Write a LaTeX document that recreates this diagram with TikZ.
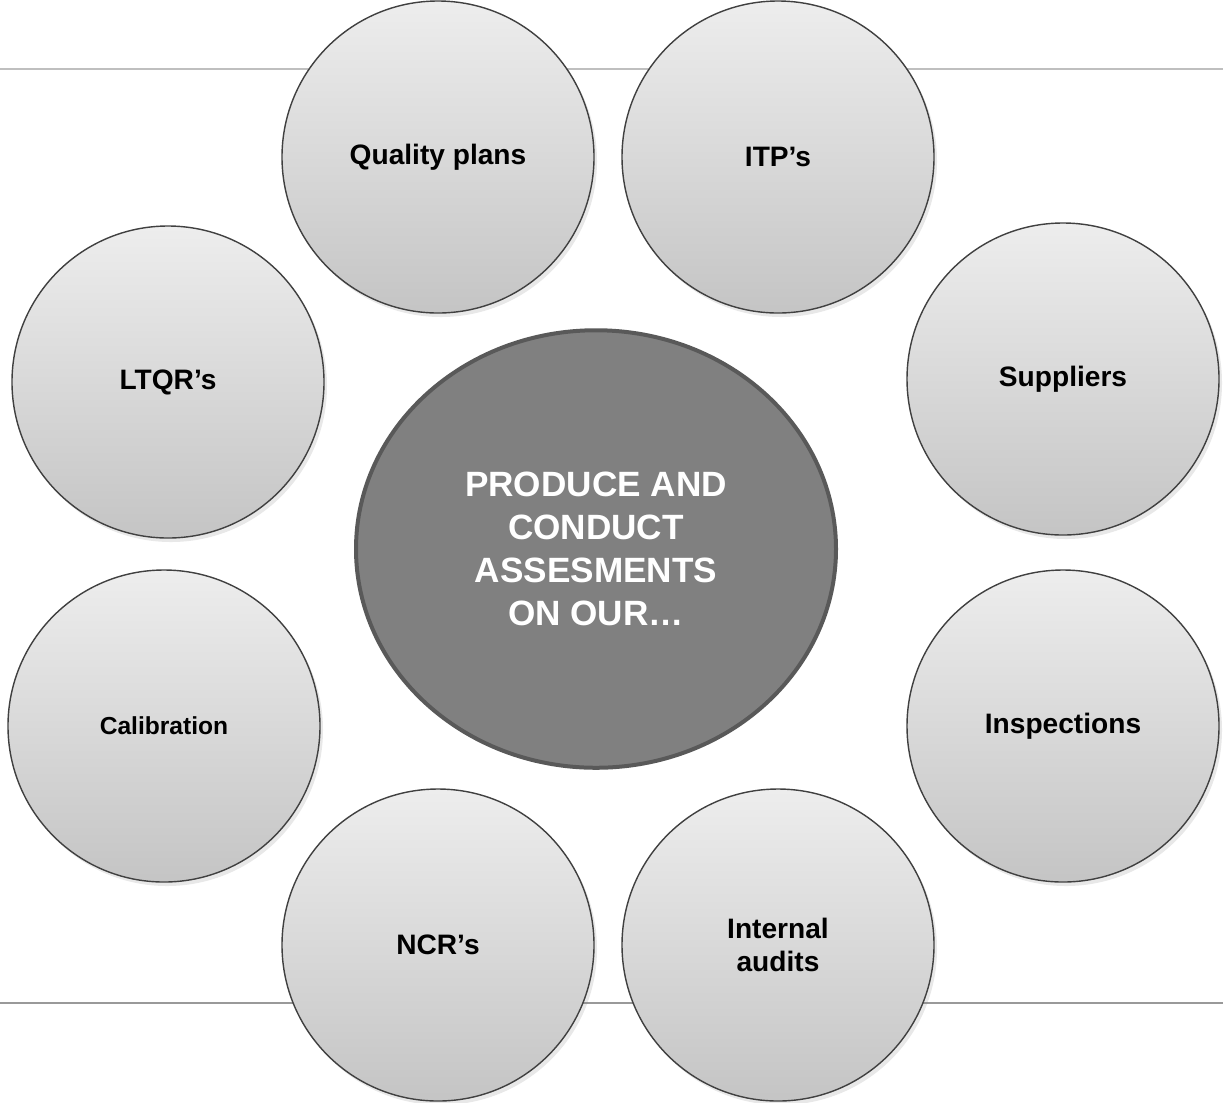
\documentclass[tikz,border=0pt]{standalone}
\usepackage{fontspec}
\setmainfont{Liberation Sans}
\usetikzlibrary{shapes.geometric,shadows}

\tikzset{
  bubble/.style={circle, draw=black!75, line width=0.8pt, minimum size=62.4mm,
    top color=black!7, bottom color=black!23, align=center, inner sep=0pt,
    font=\fontsize{16}{19}\selectfont\bfseries,
    drop shadow={opacity=0.18, shadow xshift=0.6mm, shadow yshift=-0.8mm}},
  hub/.style={ellipse, draw=black!65, line width=0.8mm, fill=black!50,
    minimum width=96mm, minimum height=87.5mm, align=center, text=white,
    font=\fontsize{20}{24.5}\selectfont\bfseries},
  rule/.style={draw=black!25, line width=0.4mm}
}

\begin{document}
\begin{tikzpicture}[x=0.2mm, y=-0.2mm]
    \useasboundingbox (0,0) rectangle (1223,1102);
    % the two grey rules behind the circles
    \coordinate (topL) at (0,69);
    \coordinate (topR) at (1223,69);
    \coordinate (botL) at (0,1003);
    \coordinate (botR) at (1223,1003);
    \draw[rule] (topL) -- (topR);
    \draw[rule, draw=black!40] (botL) -- (botR);

    \node[hub] (hub) at (596,549) {PRODUCE AND\\CONDUCT\\ASSESMENTS\\ON OUR\ldots};

    \node[bubble] (qplans) at (438,157) {Quality plans};
    \node[bubble] (itps) at (778,157) {ITP’s};
    \node[bubble] (ltqrs) at (168,382) {LTQR’s};
    \node[bubble] (suppliers) at (1063,379) {Suppliers};
    \node[bubble, font=\fontsize{14}{17}\selectfont\bfseries] (calib) at (164,726) {Calibration};
    \node[bubble] (inspect) at (1063,726) {Inspections};
    \node[bubble] (ncrs) at (438,945) {NCR’s};
    \node[bubble] (audits) at (778,945) {Internal\\audits};
\end{tikzpicture}
\end{document}
